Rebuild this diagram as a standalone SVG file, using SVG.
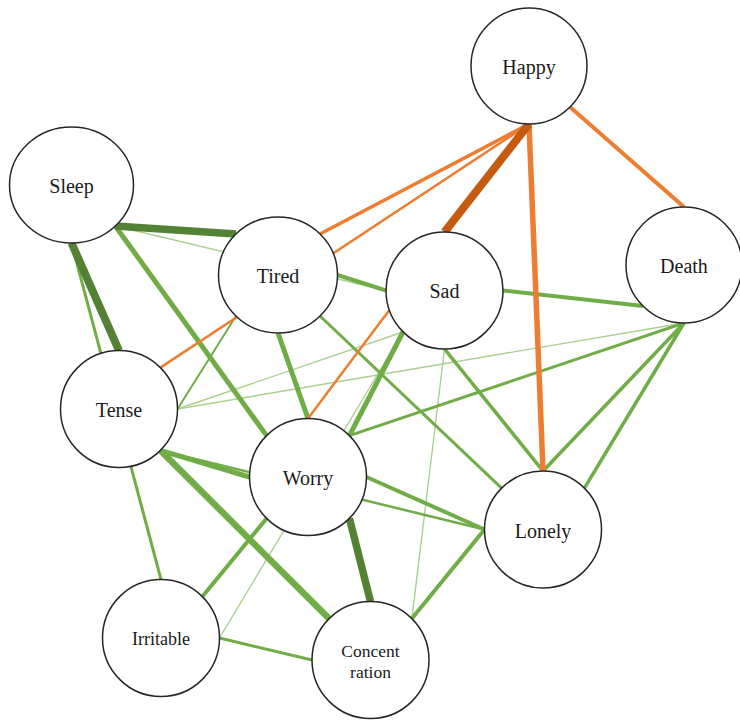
<svg xmlns="http://www.w3.org/2000/svg" width="740" height="720" viewBox="0 0 740 720">
<style>
.e{fill:none;stroke-linecap:butt}
.lg{stroke:#A9D18E;stroke-width:1.4}
.g{stroke:#70AD47}
.dg{stroke:#548235}
.o{stroke:#ED7D31}
.do{stroke:#C55A11}
.n{fill:#FFFFFF;stroke:#262626;stroke-width:1.5}
text{font-family:'Liberation Serif',serif;font-size:20px;fill:#1a1a1a;text-anchor:middle}
</style>
<rect width="740" height="720" fill="#FFFFFF"/>
<g id="connectors">
<line class="e lg" x1="115.3" y1="226" x2="386" y2="290.5"/>
<line class="e lg" x1="444.5" y1="349" x2="411.9" y2="618.6"/>
<line class="e lg" x1="403" y1="332" x2="177.5" y2="409"/>
<line class="e lg" x1="403" y1="332" x2="219.5" y2="638"/>
<line class="e lg" x1="684" y1="323" x2="177.5" y2="409"/>
<line class="e g" stroke-width="5" x1="115.3" y1="226" x2="266.6" y2="435.6"/>
<line class="e g" stroke-width="3" x1="71.5" y1="243" x2="161" y2="579.5"/>
<line class="e g" stroke-width="5" x1="278" y1="333" x2="308" y2="418.5"/>
<line class="e g" stroke-width="4" x1="337.5" y1="275" x2="386" y2="290.5"/>
<line class="e g" stroke-width="2" x1="236" y1="316" x2="177.5" y2="409"/>
<line class="e g" stroke-width="3" x1="320" y1="316" x2="501.6" y2="488.1"/>
<line class="e g" stroke-width="4" x1="503" y1="290.5" x2="643" y2="306"/>
<line class="e g" stroke-width="5" x1="403" y1="332" x2="349.4" y2="435.6"/>
<line class="e g" stroke-width="3.5" x1="444.5" y1="349" x2="543" y2="471"/>
<line class="e g" stroke-width="3" x1="684" y1="323" x2="349.4" y2="435.6"/>
<line class="e g" stroke-width="3.5" x1="684" y1="323" x2="543" y2="471"/>
<line class="e g" stroke-width="3.5" x1="684" y1="323" x2="584.4" y2="488.1"/>
<line class="e g" stroke-width="5" x1="160.4" y1="450.4" x2="249.5" y2="477"/>
<line class="e g" stroke-width="2.5" x1="160.4" y1="450.4" x2="484.5" y2="529.5"/>
<line class="e g" stroke-width="6.5" x1="160.4" y1="450.4" x2="329.1" y2="618.6"/>
<line class="e g" stroke-width="4" x1="266.6" y1="518.4" x2="202.4" y2="596.6"/>
<line class="e g" stroke-width="4" x1="366.5" y1="477" x2="484.5" y2="529.5"/>
<line class="e g" stroke-width="3" x1="219.5" y1="638" x2="312" y2="660"/>
<line class="e g" stroke-width="4" x1="411.9" y1="618.6" x2="484.5" y2="529.5"/>
<line class="e dg" stroke-width="7.5" x1="115.3" y1="226" x2="236" y2="234"/>
<line class="e dg" stroke-width="8" x1="71.5" y1="243" x2="119" y2="350.5"/>
<line class="e dg" stroke-width="7.5" x1="349.4" y1="518.4" x2="370.5" y2="601.5"/>
<line class="e o" stroke-width="3.5" x1="529" y1="124" x2="320" y2="234"/>
<line class="e o" stroke-width="2.5" x1="529" y1="124" x2="160.4" y2="367.6"/>
<line class="e o" stroke-width="2.5" x1="529" y1="124" x2="308" y2="418.5"/>
<line class="e o" stroke-width="5.5" x1="529" y1="124" x2="543" y2="471"/>
<line class="e o" stroke-width="4" x1="570" y1="107" x2="684" y2="207"/>
<line class="e do" stroke-width="8" x1="529" y1="124" x2="444.5" y2="232"/>
</g>
<g id="happy"><circle class="n" cx="529" cy="66" r="58"/><text x="529" y="74">Happy</text></g>
<g id="sleep"><ellipse class="n" cx="71.5" cy="185" rx="62" ry="58"/><text x="71.5" y="193">Sleep</text></g>
<g id="tired"><ellipse class="n" cx="278" cy="275" rx="59.5" ry="58"/><text x="278" y="283">Tired</text></g>
<g id="sad"><circle class="n" cx="444.5" cy="290.5" r="58.5"/><text x="444.5" y="298">Sad</text></g>
<g id="death"><circle class="n" cx="684" cy="265" r="58"/><text x="684" y="273">Death</text></g>
<g id="tense"><circle class="n" cx="119" cy="409" r="58.5"/><text x="119" y="417">Tense</text></g>
<g id="worry"><circle class="n" cx="308" cy="477" r="58.5"/><text x="308" y="485">Worry</text></g>
<g id="lonely"><circle class="n" cx="543" cy="529.5" r="58.5"/><text x="543" y="538">Lonely</text></g>
<g id="irritable"><circle class="n" cx="161" cy="638" r="58.5"/><text x="161" y="645" style="font-size:18px">Irritable</text></g>
<g id="concentration"><circle class="n" cx="370.5" cy="660" r="58.5"/><text x="370.5" y="657" style="font-size:17.5px">Concent</text><text x="370.5" y="678" style="font-size:17.5px">ration</text></g>
</svg>
